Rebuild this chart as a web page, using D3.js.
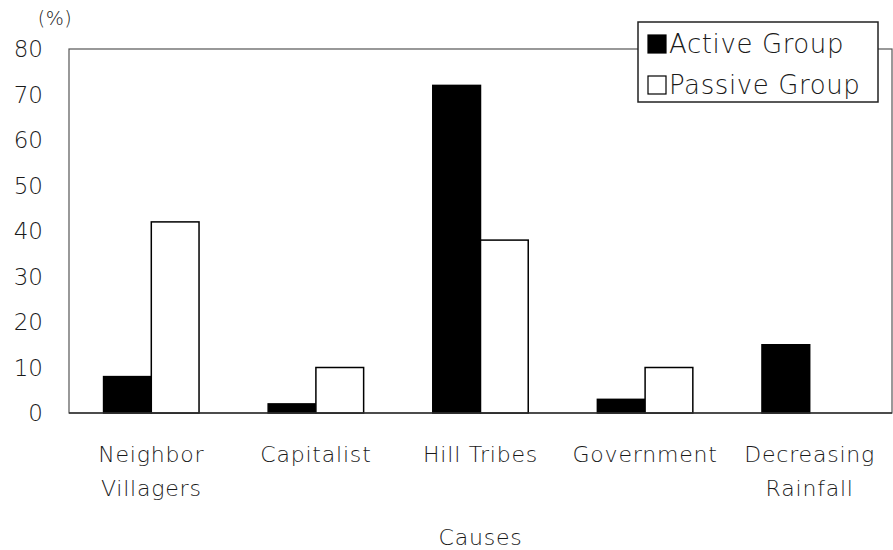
<!DOCTYPE html>
<html>
<head>
<meta charset="utf-8">
<script src="https://cdn.jsdelivr.net/npm/d3@7"></script>
<style>
  body { margin: 0; background: white; }
  text { font-family: "DejaVu Sans", sans-serif; fill: #1a1a1a; font-weight: 200; }
</style>
</head>
<body>
<svg></svg>
<script>
var w = 893;
var h = 550;

// data
var causes = [["Neighbor", "Villagers"], ["Capitalist"], ["Hill Tribes"], ["Government"], ["Decreasing", "Rainfall"]];
var activeGroup = [8, 2, 72, 3, 15];
var passiveGroup = [42, 10, 38, 10, 0];
var yTicks = [0, 10, 20, 30, 40, 50, 60, 70, 80];
var seriesNames = ["Active Group", "Passive Group"];
var seriesFill = ["#000", "#fff"];

var margin = { left: 69, right: 1, top: 49, bottom: 137 };

var canvas = d3.select("svg")
	.attr("width", w)
	.attr("height", h)
	.style("background-color", "white");

var x = d3.scaleBand()
	.domain(d3.range(causes.length))
	.range([margin.left, w - margin.right])
	.paddingInner(0)
	.paddingOuter(0);

var y = d3.scaleLinear()
	.domain([0, 80])
	.range([h - margin.bottom, margin.top]);

var barW = x.bandwidth() * 0.29;

// plot frame
canvas.append("rect")
	.attr("x", margin.left)
	.attr("y", margin.top)
	.attr("width", w - margin.right - margin.left)
	.attr("height", y(0) - margin.top)
	.attr("fill", "none")
	.attr("stroke", "#555")
	.attr("stroke-width", 1.2);

// y axis labels
canvas.append("g")
	.selectAll("text")
	.data(yTicks)
	.join("text")
	.attr("x", 43)
	.attr("y", function (d) { return y(d); })
	.attr("dy", "0.36em")
	.attr("text-anchor", "end")
	.style("font-size", "23px")
	.text(function (d) { return d; });

canvas.append("text")
	.attr("x", 55)
	.attr("y", 25)
	.attr("text-anchor", "middle")
	.style("font-size", "19px")
	.style("letter-spacing", "0.5px")
	.text("(%)");

// bars
var series = [activeGroup, passiveGroup];
series.forEach(function (vals, s) {
	canvas.append("g")
		.selectAll("rect")
		.data(vals)
		.join("rect")
		.attr("x", function (d, i) { return x(i) + x.bandwidth() / 2 + (s - 1) * barW; })
		.attr("y", function (d) { return y(d); })
		.attr("width", barW)
		.attr("height", function (d) { return y(0) - y(d); })
		.attr("fill", seriesFill[s])
		.attr("stroke", "#000")
		.attr("stroke-width", function (d) { return d > 0 ? 1.5 : 0; });
});

// baseline
canvas.append("line")
	.attr("x1", margin.left)
	.attr("x2", w - margin.right)
	.attr("y1", y(0))
	.attr("y2", y(0))
	.attr("stroke", "#333")
	.attr("stroke-width", 1.5);

// category labels
var catG = canvas.append("g")
	.selectAll("text")
	.data(causes)
	.join("text")
	.attr("text-anchor", "middle")
	.style("font-size", "22px")
	.style("letter-spacing", "0.8px");

catG.selectAll("tspan")
	.data(function (d, i) { return d.map(function (t) { return { t: t, i: i }; }); })
	.join("tspan")
	.attr("x", function (d) { return x(d.i) + x.bandwidth() / 2; })
	.attr("y", function (d, j) { return 462 + j * 34; })
	.text(function (d) { return d.t; });

canvas.append("text")
	.attr("x", x(2) + x.bandwidth() / 2)
	.attr("y", 545)
	.attr("text-anchor", "middle")
	.style("font-size", "22px")
	.style("letter-spacing", "0.8px")
	.text("Causes");

// legend
var legend = canvas.append("g");
legend.append("rect")
	.attr("x", 638)
	.attr("y", 22)
	.attr("width", 240)
	.attr("height", 80)
	.attr("fill", "white")
	.attr("stroke", "#222")
	.attr("stroke-width", 1.5);

var items = legend.selectAll("g.item")
	.data(seriesNames)
	.join("g")
	.attr("class", "item")
	.attr("transform", function (d, i) { return "translate(648," + (35 + i * 41) + ")"; });

items.append("rect")
	.attr("width", 18)
	.attr("height", 18)
	.attr("fill", function (d, i) { return seriesFill[i]; })
	.attr("stroke", "#000")
	.attr("stroke-width", 1.2);

items.append("text")
	.attr("x", 21)
	.attr("y", 9)
	.attr("dy", "0.36em")
	.style("font-size", "26px")
	.style("letter-spacing", "0.6px")
	.text(function (d) { return d; });
</script>
</body>
</html>
